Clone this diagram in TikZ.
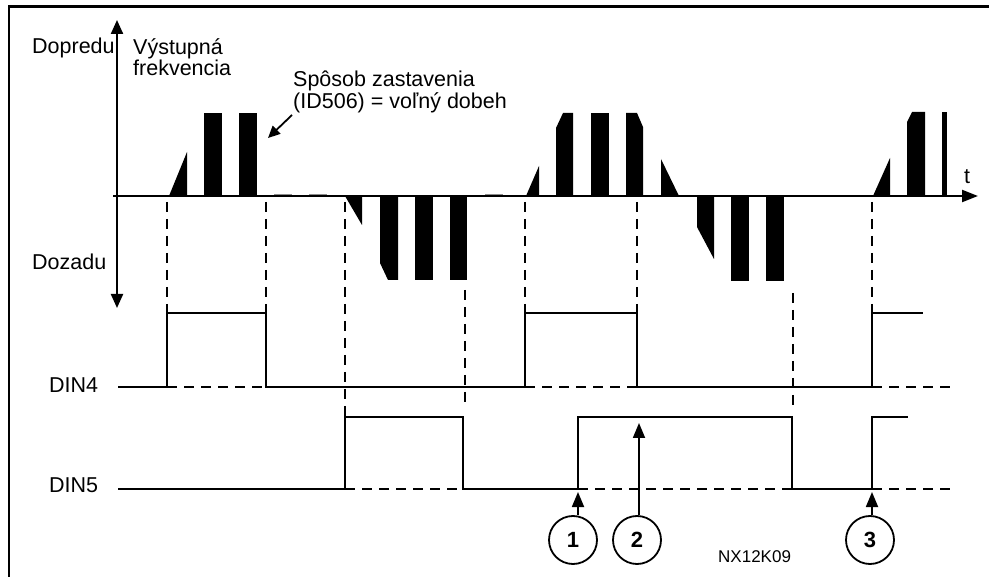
\documentclass[tikz,border=0pt]{standalone}
\usepackage{fontspec}
\setmainfont{Liberation Sans}
\usetikzlibrary{arrows.meta}
\begin{document}
\begin{tikzpicture}[x=1pt,y=-1pt,
  sig/.style={line width=1.8pt},
  dsh/.style={line width=1.8pt,dash pattern=on 10pt off 7pt},
  axis/.style={line width=2.2pt},
  bar/.style={fill=black},
  zer/.style={fill=black!45},
  lbl/.style={inner sep=0pt,anchor=base west,font=\fontsize{21.5}{21}\selectfont},
  lbl2/.style={inner sep=0pt,anchor=north west,align=left,font=\fontsize{21.5}{19}\selectfont},
  num/.style={circle,draw,line width=1.8pt,minimum size=48pt,inner sep=0pt,font=\fontsize{22}{22}\selectfont\bfseries},
  tip/.style={-{Triangle[length=15pt,width=12pt]}},
]
\useasboundingbox (0,0) rectangle (989,577);
% frame
\draw[line width=2pt] (9,577) -- (9,7);
\draw[line width=3pt] (8,7) -- (989,7);

% frequency bars, group 1
\fill[bar] (169,196) -- (187,152) -- (187,196) -- cycle;
\fill[bar] (204,113) rectangle (222,196);
\fill[bar] (239,113) rectangle (257,196);
\fill[zer] (274,194) rectangle (292,196);
\fill[zer] (309,194) rectangle (327,196);
% negative group 1
\fill[bar] (345,196) -- (362,196) -- (362,225) -- cycle;
\fill[bar] (380,196) -- (398,196) -- (398,280) -- (388,280) -- (380,263) -- cycle;
\fill[bar] (415,196) rectangle (433,280);
\fill[bar] (450,196) rectangle (467,280);
\fill[zer] (485,194) rectangle (503,196);
% group 2
\fill[bar] (526,196) -- (539,166) -- (539,196) -- cycle;
\fill[bar] (556,196) -- (556,128) -- (563,113) -- (573,113) -- (573,196) -- cycle;
\fill[bar] (591,113) rectangle (609,196);
\fill[bar] (626,196) -- (626,113) -- (637,113) -- (643,127) -- (643,196) -- cycle;
\fill[bar] (661,196) -- (661,159) -- (679,196) -- cycle;
% negative group 2
\fill[bar] (697,196) -- (714,196) -- (714,259) -- (697,227) -- cycle;
\fill[bar] (731,196) rectangle (749,281);
\fill[bar] (766,196) rectangle (784,281);
% group 3
\fill[bar] (873,196) -- (890,158) -- (890,196) -- cycle;
\fill[bar] (907,196) -- (907,122) -- (912,112) -- (925,112) -- (925,196) -- cycle;
\fill[bar] (942,112) rectangle (947,196);

% axes
\coordinate (yb) at (117,308);
\coordinate (yt) at (117,20);
\coordinate (tl) at (113,196);
\coordinate (tr) at (978,196);
\draw[axis,{Triangle[length=14pt,width=12pt]}-{Triangle[length=14pt,width=12pt]}] (yb) -- (yt);
\draw[axis,-{Triangle[length=16pt,width=12pt]}] (tl) -- (tr);

% labels
\node[lbl] (dop) at (32,54) {Dopredu};
\node[lbl2] (vys) at (133,38) {Výstupná\\frekvencia};
\node[lbl2] (sp) at (293,71) {Spôsob zastavenia\\(ID506) = voľný dobeh};
\node[lbl] (doz) at (32,270) {Dozadu};
\node[lbl] (din4) at (49,393) {DIN4};
\node[lbl] (din5) at (49,493) {DIN5};
\node[lbl] (tlab) at (964,184) {t};
\node[lbl,font=\fontsize{17}{17}\selectfont] (nx) at (718,562) {NX12K09};

\coordinate (spst) at (292,115);
\coordinate (sptip) at (268,138);
\draw[line width=1.8pt,-{Triangle[length=12pt,width=11pt]}] (spst) -- (sptip);

% vertical dashed guides
\draw[dsh] (167,202) -- (167,313);
\draw[dsh] (266,202) -- (266,313);
\draw[dsh] (345,202) -- (345,417);
\draw[dsh] (465,290) -- (465,405);
\draw[dsh] (525,202) -- (525,313);
\draw[dsh] (637,202) -- (637,313);
\draw[dsh] (793,293) -- (793,405);
\draw[dsh] (872,202) -- (872,313);

% DIN4
\draw[sig] (118,387) -- (167,387) -- (167,313) -- (266,313) -- (266,387) -- (525,387) -- (525,313) -- (637,313) -- (637,387) -- (872,387) -- (872,313) -- (923,313);
\draw[dsh] (167,387) -- (266,387);
\draw[dsh] (525,387) -- (637,387);
\draw[dsh] (872,387) -- (950,387);
% DIN5
\draw[sig] (118,489) -- (345,489) -- (345,417) -- (463,417) -- (463,489) -- (578,489) -- (578,417) -- (792,417) -- (792,489) -- (872,489) -- (872,417) -- (908,417);
\draw[dsh] (345,489) -- (463,489);
\draw[dsh] (578,489) -- (792,489);
\draw[dsh] (872,489) -- (950,489);

% numbered circles
\node[num] (c1) at (573,540) {1};
\node[num] (c2) at (637,540) {2};
\node[num] (c3) at (870,540) {3};
\coordinate (a1) at (578,492);
\coordinate (a2) at (639,423);
\coordinate (a3) at (872,492);
\draw[sig,tip] (c1.north -| a1) -- (a1);
\draw[sig,tip] (c2.north -| a2) -- (a2);
\draw[sig,tip] (c3.north -| a3) -- (a3);
\end{tikzpicture}
\end{document}
